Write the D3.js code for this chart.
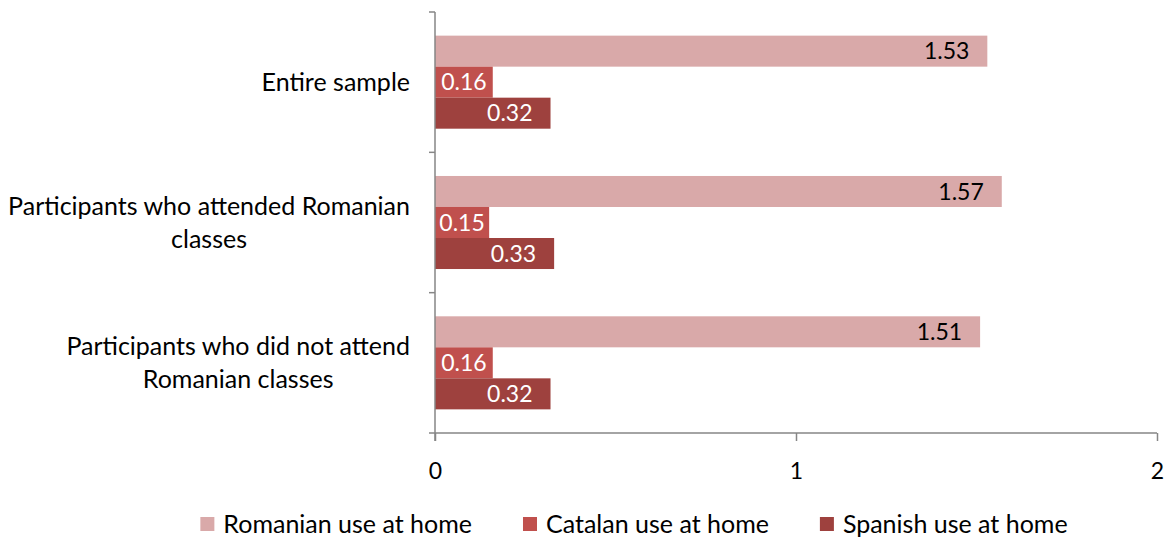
<!DOCTYPE html>
<html>
<head>
<meta charset="utf-8">
<script src="https://cdn.jsdelivr.net/npm/d3@7/dist/d3.min.js"></script>
<style>
  html, body { margin: 0; padding: 0; background: #ffffff; }
  svg { display: block; }
  text { font-family: Lato, "Open Sans", sans-serif; }
</style>
</head>
<body>
<svg id="chart" width="1169" height="540"></svg>
<script>
// Category labels (each entry is a list of display lines)
const categories = [
  ["Entire sample"],
  ["Participants who attended Romanian", "classes"],
  ["Participants who did not attend", "Romanian classes"]
];
const seriesNames = ["Romanian use at home", "Catalan use at home", "Spanish use at home"];
const seriesColors = ["#D9A9A9", "#C0504D", "#9E413E"];
const labelColors = ["#000000", "#ffffff", "#ffffff"];
const romanianValues = [1.53, 1.57, 1.51];
const catalanValues = [0.16, 0.15, 0.16];
const spanishValues = [0.32, 0.33, 0.32];
const xTicks = [0, 1, 2];

const seriesValues = [romanianValues, catalanValues, spanishValues];
const fontSize = 25;
const valueFontSize = 23;
const axisColor = "#868686";

const svg = d3.select("#chart");
const plot = { left: 435, right: 1157, top: 12, bottom: 433 };

const x = d3.scaleLinear().domain([0, 2]).range([plot.left, plot.right]);
const y = d3.scaleBand()
  .domain(categories.map((d, i) => i))
  .range([plot.top, plot.bottom])
  .paddingInner(0.337)
  .paddingOuter(0.1685);
const ySeries = d3.scaleBand()
  .domain(seriesNames.map((d, i) => i))
  .range([0, y.bandwidth()]);

// Bars and value labels
const groups = svg.append("g").selectAll("g")
  .data(categories)
  .join("g")
  .attr("transform", (d, i) => `translate(0,${y(i)})`);

groups.each(function (cat, ci) {
  const g = d3.select(this);
  seriesNames.forEach((name, si) => {
    const v = seriesValues[si][ci];
    const y0 = ySeries(si);
    const h = ySeries.bandwidth();
    g.append("rect")
      .attr("x", x(0))
      .attr("y", y0)
      .attr("width", x(v) - x(0))
      .attr("height", h)
      .attr("fill", seriesColors[si]);
    const t = g.append("text")
      .attr("y", y0 + h / 2)
      .attr("dy", "0.35em")
      .attr("fill", labelColors[si])
      .attr("font-size", valueFontSize)
      .text(v.toFixed(2));
    const w = t.node().getComputedTextLength();
    const pad = 18;
    let tx = x(v) - pad - w;
    if (tx < x(0) + 2) tx = (x(0) + x(v)) / 2 - w / 2;
    t.attr("x", tx);
  });
});

// Y axis with outward ticks at band boundaries
const yAxis = svg.append("g").attr("stroke", axisColor).attr("stroke-width", 1.5);
yAxis.append("line")
  .attr("x1", plot.left).attr("x2", plot.left)
  .attr("y1", plot.top).attr("y2", plot.bottom + 8);
const bounds = d3.range(categories.length + 1).map(i => plot.top + i * y.step());
yAxis.selectAll("line.tick").data(bounds).join("line")
  .attr("class", "tick")
  .attr("x1", plot.left - 6).attr("x2", plot.left)
  .attr("y1", d => d).attr("y2", d => d);

// X axis
const xAxis = d3.axisBottom(x).tickValues(xTicks).tickSize(8).tickPadding(22).tickFormat(d3.format("d"));
const xg = svg.append("g").attr("transform", `translate(0,${plot.bottom})`).call(xAxis);
xg.select(".domain").attr("stroke", axisColor).attr("stroke-width", 1.5).attr("d", `M${plot.left},0H${plot.right}`);
xg.selectAll(".tick line").attr("stroke", axisColor).attr("stroke-width", 1.5);
xg.selectAll(".tick text")
  .attr("font-size", valueFontSize)
  .attr("font-family", "Lato, 'Open Sans', sans-serif")
  .attr("fill", "#000");

// Category labels: block right-aligned, lines centred within block
const labelRight = 410;
const lineGap = 33;
categories.forEach((lines, ci) => {
  const cy = y(ci) + y.bandwidth() / 2;
  const g = svg.append("g");
  const texts = lines.map((ln, li) => g.append("text")
    .attr("font-size", fontSize)
    .attr("fill", "#000")
    .attr("text-anchor", "middle")
    .attr("dy", "0.35em")
    .attr("y", cy + (li - (lines.length - 1) / 2) * lineGap)
    .text(ln));
  const maxW = d3.max(texts, t => t.node().getComputedTextLength());
  texts.forEach(t => t.attr("x", labelRight - maxW / 2));
});

// Legend
const legend = svg.append("g");
const sq = 14, gapText = 9, gapItem = 51, legendY = 524, legendCenter = 634;
const items = seriesNames.map((name, i) => {
  const g = legend.append("g");
  g.append("rect").attr("width", sq).attr("height", sq).attr("y", legendY - sq / 2).attr("fill", seriesColors[i]);
  const t = g.append("text").attr("x", sq + gapText).attr("y", legendY).attr("dy", "0.35em")
    .attr("font-size", fontSize).attr("fill", "#000").text(name);
  return { g, w: sq + gapText + t.node().getComputedTextLength() };
});
const total = d3.sum(items, d => d.w) + gapItem * (items.length - 1);
let lx = legendCenter - total / 2;
items.forEach(it => { it.g.attr("transform", `translate(${lx},0)`); lx += it.w + gapItem; });
</script>
</body>
</html>
